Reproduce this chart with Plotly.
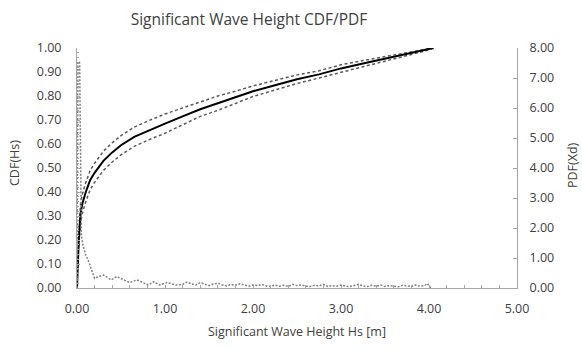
import plotly.graph_objects as go

# CDF data (left axis)
cdf_x = [0, 0.01, 0.02, 0.04, 0.06, 0.1, 0.15, 0.2, 0.3, 0.4, 0.5, 0.65, 0.8, 1.0, 1.2, 1.4, 1.6, 1.8, 2.0,
         2.25, 2.5, 2.75, 3.0, 3.25, 3.5, 3.75, 3.9, 4.0, 4.05]
cdf_mid = [0, 0.12, 0.2, 0.31, 0.35, 0.40, 0.45, 0.48, 0.53, 0.565, 0.595, 0.63, 0.655, 0.685, 0.715, 0.745,
           0.77, 0.795, 0.82, 0.845, 0.87, 0.89, 0.915, 0.935, 0.955, 0.975, 0.985, 0.995, 1.0]
cdf_up = [None, None, 0.23, 0.35, 0.39, 0.44, 0.49, 0.52, 0.57, 0.605, 0.635, 0.67, 0.695, 0.725, 0.75, 0.775,
          0.80, 0.82, 0.842, 0.865, 0.888, 0.905, 0.93, 0.948, 0.965, 0.982, 0.99, 0.998, 1.0]
cdf_lo = [None, None, 0.17, 0.27, 0.31, 0.36, 0.41, 0.44, 0.49, 0.525, 0.555, 0.59, 0.615, 0.645, 0.68, 0.715,
          0.74, 0.77, 0.798, 0.825, 0.852, 0.875, 0.90, 0.922, 0.945, 0.968, 0.98, 0.992, 1.0]

# PDF data (right axis)
pdf_x = [0, 0.01, 0.03, 0.05, 0.07, 0.1, 0.13, 0.17, 0.2, 0.24, 0.3, 0.33, 0.39, 0.45, 0.53, 0.6, 0.68, 0.73,
         0.81, 0.87, 0.94, 1.02, 1.08, 1.13, 1.2, 1.25, 1.3, 1.35, 1.4, 1.45, 1.5, 1.55, 1.6, 1.65, 1.7, 1.75,
         1.8, 1.85, 1.9, 1.95, 2.0, 2.05, 2.1, 2.15, 2.2, 2.25, 2.3, 2.35, 2.4, 2.45, 2.5, 2.55, 2.6, 2.65,
         2.7, 2.75, 2.8, 2.85, 2.9, 2.95, 3.0, 3.05, 3.1, 3.15, 3.2, 3.25, 3.3, 3.35, 3.4, 3.45, 3.5, 3.55,
         3.6, 3.65, 3.7, 3.75, 3.8, 3.85, 3.9, 3.95, 3.98, 4.02]
pdf_y = [0, 7.55, 7.5, 1.75, 1.4, 1.1, 0.9, 0.55, 0.32, 0.38, 0.43, 0.38, 0.27, 0.38, 0.27, 0.18, 0.27, 0.2,
         0.1, 0.21, 0.1, 0.18, 0.15, 0.1, 0.12, 0.2, 0.14, 0.1, 0.18, 0.12, 0.08, 0.13, 0.16, 0.1, 0.07, 0.12,
         0.09, 0.14, 0.1, 0.06, 0.1, 0.08, 0.12, 0.07, 0.05, 0.1, 0.06, 0.09, 0.05, 0.12, 0.08, 0.1, 0.06, 0.05,
         0.09, 0.07, 0.12, 0.05, 0.08, 0.06, 0.1, 0.06, 0.05, 0.08, 0.12, 0.07, 0.05, 0.09, 0.06, 0.1, 0.05, 0.08,
         0.07, 0.04, 0.09, 0.07, 0.05, 0.1, 0.06, 0.08, 0.15, 0.0]

x_ticks = [0, 1, 2, 3, 4, 5]
y1_ticks = [i / 10 for i in range(11)]
y2_ticks = list(range(9))

FONT = "Open Sans"
TXT = "#404040"
AX = "#a6a6a6"

fig = go.Figure()
fig.add_trace(go.Scatter(x=pdf_x, y=pdf_y, yaxis="y2", mode="lines",
                         line=dict(color="#808080", width=1.5, dash="2px,1.5px"), showlegend=False))
fig.add_trace(go.Scatter(x=cdf_x, y=cdf_up, mode="lines",
                         line=dict(color="#595959", width=1.5, dash="3px,2.5px"), showlegend=False))
fig.add_trace(go.Scatter(x=cdf_x, y=cdf_lo, mode="lines",
                         line=dict(color="#595959", width=1.5, dash="3px,2.5px"), showlegend=False))
fig.add_trace(go.Scatter(x=cdf_x, y=cdf_mid, mode="lines",
                         line=dict(color="#000000", width=2), showlegend=False))

fig.update_layout(
    width=582, height=351,
    margin=dict(l=77, r=65, t=48, b=63),
    paper_bgcolor="white", plot_bgcolor="white",
    font=dict(family=FONT, size=12, color=TXT),
    title=dict(text="Significant Wave Height CDF/PDF", x=249 / 582, xref="container", xanchor="center",
               y=1 - 20 / 351, yref="container", yanchor="middle",
               font=dict(family=FONT, size=15.5, color=TXT)),
    xaxis=dict(range=[0, 5], tickvals=x_ticks, ticktext=[f"{v:.2f}" for v in x_ticks],
               showgrid=False, zeroline=False, showline=True, linecolor=AX, linewidth=1,
               ticks="inside", ticklen=3, tickcolor=AX, ticklabelstandoff=9,
               minor=dict(dtick=0.2, ticks="inside", ticklen=3, tickcolor=AX),
               tickfont=dict(size=12.5, color=TXT)),
    yaxis=dict(range=[0, 1], tickvals=y1_ticks, ticktext=[f"{v:.2f}" for v in y1_ticks],
               showgrid=False, zeroline=False, showline=True, linecolor=AX, linewidth=1,
               ticks="inside", ticklen=3, tickcolor=AX, ticklabelstandoff=12,
               minor=dict(dtick=0.02, ticks="inside", ticklen=2, tickcolor=AX),
               tickfont=dict(size=12.5, color=TXT)),
    yaxis2=dict(range=[0, 8], tickvals=y2_ticks, ticktext=[f"{v:.2f}" for v in y2_ticks],
                overlaying="y", side="right", anchor="x",
                showgrid=False, zeroline=False, showline=True, linecolor=AX, linewidth=1,
                ticks="inside", ticklen=4, tickcolor=AX, ticklabelstandoff=9,
                tickfont=dict(size=12.5, color=TXT)),
    annotations=[
        dict(text="Significant Wave Height Hs [m]", showarrow=False, font=dict(size=12.5, color=TXT),
             xref="paper", yref="paper", xanchor="center", yanchor="middle"),
        dict(text="CDF(Hs)", showarrow=False, textangle=-90, font=dict(size=12.5, color=TXT),
             xref="paper", yref="paper", xanchor="center", yanchor="middle"),
        dict(text="PDF(Xd)", showarrow=False, textangle=-90, font=dict(size=12.5, color=TXT),
             xref="paper", yref="paper", xanchor="center", yanchor="middle"),
    ],
)

# convert pixel positions of annotations to paper coords
pw, ph = 582 - 77 - 65, 351 - 48 - 63
fig.layout.annotations[0].update(x=(297 - 77) / pw, y=(351 - 63 - 331) / ph)
fig.layout.annotations[1].update(x=(14 - 77) / pw, y=(351 - 63 - 163) / ph)
fig.layout.annotations[2].update(x=(572 - 77) / pw, y=(351 - 63 - 165) / ph)

fig.write_html("out.html")
